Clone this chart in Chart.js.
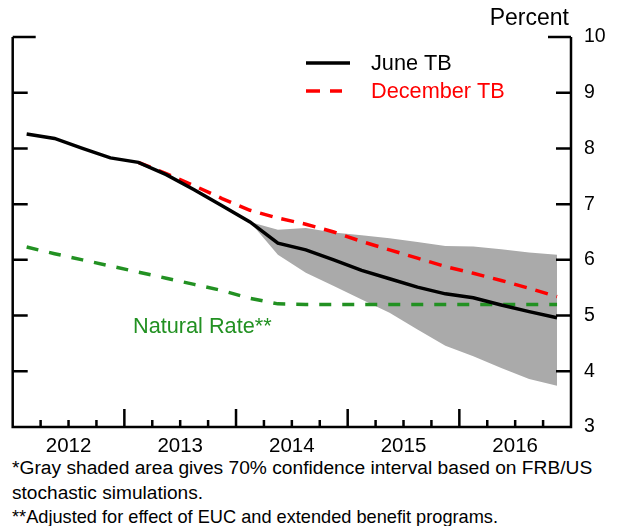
<!DOCTYPE html>
<html>
<head>
<meta charset="utf-8">
<script src="https://cdn.jsdelivr.net/npm/chart.js@4"></script>
<style>
  body { margin: 0; background: #fff; }
  #wrap { position: relative; width: 617px; height: 455px; }
  #notes {
    width: 617px; padding-left: 12px; box-sizing: border-box;
    font-family: "Liberation Sans", Arial, sans-serif; font-size: 18.9px;
    color: #000;
  }
  #notes div { height: 25px; line-height: 25px; white-space: nowrap; }
</style>
</head>
<body>
<div id="wrap"><canvas id="grafico"></canvas></div>
<div id="notes">
  <div style="font-size:19.2px">*Gray shaded area gives 70% confidence interval based on FRB/US</div>
  <div style="font-size:19.1px">stochastic simulations.</div>
  <div style="font-size:18.2px">**Adjusted for effect of EUC and extended benefit programs.</div>
</div>
<script>
// quarterly, 2012Q1 .. 2016Q4
const quarters = ["2012Q1","2012Q2","2012Q3","2012Q4","2013Q1","2013Q2","2013Q3","2013Q4",
  "2014Q1","2014Q2","2014Q3","2014Q4","2015Q1","2015Q2","2015Q3","2015Q4",
  "2016Q1","2016Q2","2016Q3","2016Q4"];
const years = ["2012","2013","2014","2015","2016"];
const yTicks = [3,4,5,6,7,8,9,10];

const juneTB = [8.26,8.18,8.00,7.83,7.75,7.53,7.26,6.97,6.68,6.30,6.18,6.00,5.81,5.66,5.51,5.39,5.32,5.19,5.07,4.96];
const decemberTB = [null,null,null,null,7.75,7.55,7.33,7.10,6.89,6.75,6.64,6.50,6.33,6.18,6.03,5.88,5.76,5.63,5.49,5.34];
const naturalRate = [6.23,6.11,6.00,5.89,5.78,5.67,5.56,5.45,5.31,5.21,5.20,5.20,5.20,5.20,5.20,5.20,5.20,5.20,5.20,5.20];
const bandUpper = [null,null,null,null,null,null,null,null,6.68,6.54,6.57,6.49,6.44,6.39,6.32,6.25,6.24,6.19,6.13,6.09];
const bandLower = [null,null,null,null,null,null,null,null,6.68,6.09,5.77,5.53,5.29,5.05,4.75,4.46,4.27,4.06,3.86,3.74];

const FONT = '"Liberation Sans", Arial, sans-serif';
const VERDE = 'rgb(34,145,34)';

// points sit in the middle of each quarter
function pontos(serie) {
  return serie.map((v, i) => ({ x: i + 0.5, y: v })).filter(p => p.y !== null);
}

const moldura = {
  id: 'moldura',
  afterDraw(chart) {
    const { ctx, chartArea: a, scales: { x, y } } = chart;
    const topo = y.getPixelForValue(10);
    ctx.save();
    ctx.strokeStyle = '#000';
    ctx.lineWidth = 2.5;
    ctx.beginPath();
    ctx.moveTo(a.left, topo);
    ctx.lineTo(a.left, a.bottom);
    ctx.lineTo(a.right, a.bottom);
    ctx.lineTo(a.right, topo);
    ctx.stroke();

    ctx.beginPath();
    yTicks.forEach(v => {
      if (v === 3) return;
      const py = y.getPixelForValue(v);
      const len = v === 10 ? 23 : 15;
      ctx.moveTo(a.left, py); ctx.lineTo(a.left + len, py);
      ctx.moveTo(a.right, py); ctx.lineTo(a.right - len, py);
    });
    for (let q = 1; q < quarters.length; q++) {
      const px = x.getPixelForValue(q);
      const len = q % 4 === 0 ? 18 : 7;
      ctx.moveTo(px, a.bottom); ctx.lineTo(px, a.bottom - len);
    }
    ctx.stroke();

    // Percent
    ctx.fillStyle = '#000';
    ctx.font = '23px ' + FONT;
    ctx.textAlign = 'right';
    ctx.textBaseline = 'middle';
    ctx.fillText('Percent', 569, 19);

    // Natural rate label
    ctx.textAlign = 'left';
    ctx.font = '21.7px ' + FONT;
    ctx.fillStyle = VERDE;
    ctx.fillText('Natural Rate**', 133, 327);

    // legenda
    ctx.lineWidth = 3.5;
    ctx.beginPath();
    ctx.moveTo(306, 63); ctx.lineTo(350, 63);
    ctx.stroke();
    ctx.fillStyle = '#000';
    ctx.fillText('June TB', 371, 64);

    ctx.strokeStyle = '#ff0000';
    ctx.setLineDash([14, 10]);
    ctx.beginPath();
    ctx.moveTo(306, 91); ctx.lineTo(342, 91);
    ctx.stroke();
    ctx.setLineDash([]);
    ctx.fillStyle = '#ff0000';
    ctx.fillText('December TB', 371, 92);
    ctx.restore();
  }
};

new Chart(document.getElementById('grafico'), {
  type: 'line',
  data: {
    datasets: [
      { label: 'June TB', data: pontos(juneTB), borderColor: '#000', borderWidth: 3.5, order: 1 },
      { label: 'December TB', data: pontos(decemberTB), borderColor: '#ff0000', borderWidth: 3.5, borderDash: [13, 9], order: 2 },
      { label: 'Natural Rate', data: pontos(naturalRate), borderColor: VERDE, borderWidth: 3.5, borderDash: [12, 11], order: 3 },
      { label: 'upper', data: pontos(bandUpper), borderWidth: 0, borderColor: 'rgba(0,0,0,0)', backgroundColor: '#aaaaaa', fill: '+1', order: 10 },
      { label: 'lower', data: pontos(bandLower), borderWidth: 0, borderColor: 'rgba(0,0,0,0)', backgroundColor: '#aaaaaa', fill: false, order: 11 }
    ]
  },
  options: {
    responsive: true,
    maintainAspectRatio: false,
    animation: false,
    devicePixelRatio: 1,
    layout: { padding: { left: 12.7, right: 0, top: 37, bottom: 0 } },
    elements: { point: { radius: 0 }, line: { tension: 0 } },
    plugins: { legend: { display: false }, tooltip: { enabled: false } },
    scales: {
      x: {
        type: 'linear', min: 0, max: quarters.length,
        grid: { display: false, drawTicks: false }, border: { display: false },
        afterBuildTicks: s => { s.ticks = years.map((_, k) => ({ value: 4 * k + 2 })); },
        afterFit: s => { s.height = 28; },
        ticks: {
          autoSkip: false, maxRotation: 0, padding: 7, color: '#000',
          font: { family: FONT, size: 20.5 },
          callback: v => years[(v - 2) / 4]
        }
      },
      y: {
        position: 'right', min: 3, max: 10,
        grid: { display: false, drawTicks: false }, border: { display: false },
        afterBuildTicks: s => { s.ticks = yTicks.map(v => ({ value: v })); },
        afterFit: s => { s.width = 46; },
        ticks: { padding: 13, color: '#000', font: { family: FONT, size: 19.5 } }
      }
    }
  },
  plugins: [moldura]
});
</script>
</body>
</html>
